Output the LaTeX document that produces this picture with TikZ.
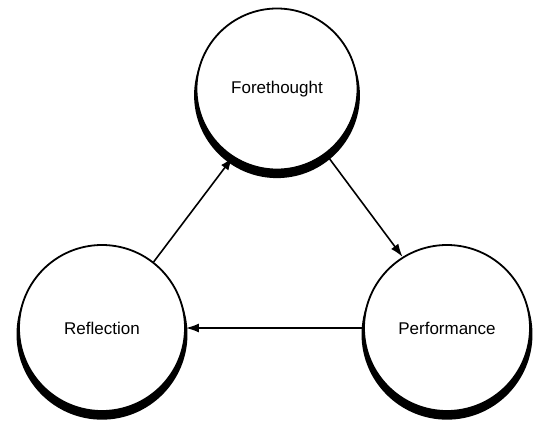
\documentclass[tikz,border=0pt]{standalone}
\usepackage{fontspec}
\setmainfont{Liberation Sans}
\usetikzlibrary{arrows.meta,shadows}
\tikzset{
  phase/.style={circle, draw=black, line width=1.8pt, fill=white, minimum size=#1, inner sep=0pt,
    font=\fontsize{17}{19}\selectfont,
    drop shadow={shadow xshift=0pt, shadow yshift=-6pt, shadow scale=1.03, fill=black, opacity=1}},
  arr/.style={line width=1.6pt, -{Latex[length=13pt,width=9pt]}}
}
\begin{document}
\begin{tikzpicture}[x=1pt,y=-1pt]
\useasboundingbox (0,0) rectangle (533,423);
\node[phase=161pt] (F) at (277,89) {Forethought};
\node[phase=166pt] (R) at (102,328) {Reflection};
\node[phase=166pt] (P) at (447,328) {Performance};
\draw[arr] (R.52) -- (F.237);
\draw[arr] (F.-53) -- (P.122);
\draw[arr] (P.180) -- (R.0);
\end{tikzpicture}
\end{document}
